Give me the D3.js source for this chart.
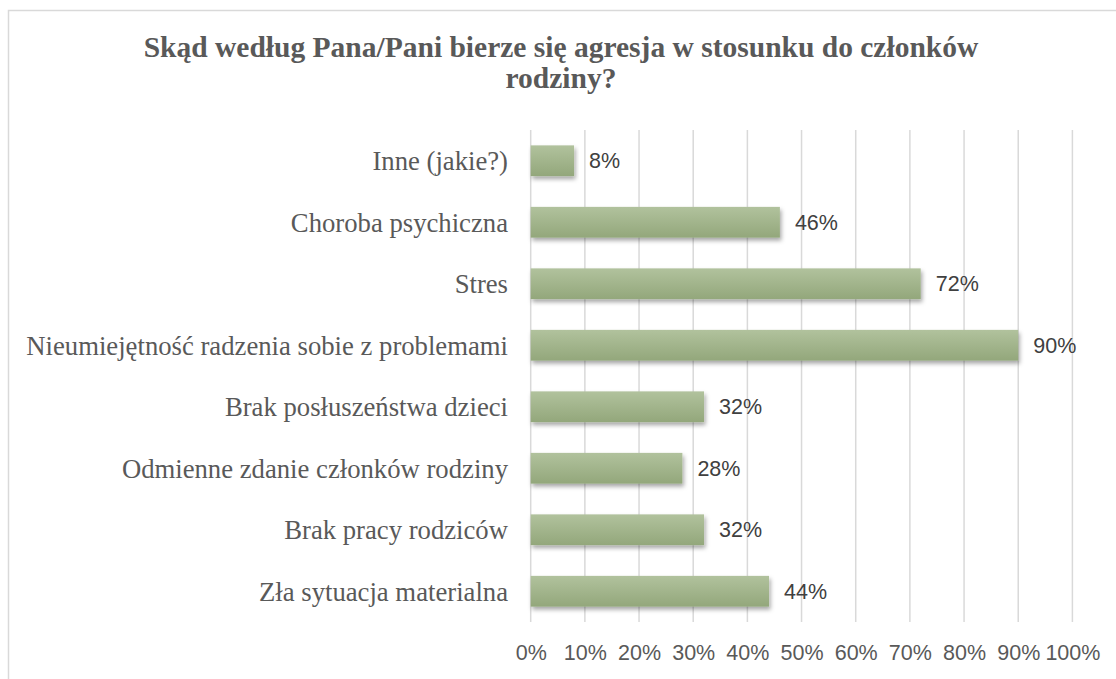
<!DOCTYPE html>
<html><head><meta charset="utf-8">
<script src="https://cdn.jsdelivr.net/npm/d3@7"></script>
<style>html,body{margin:0;padding:0;background:#fff;}</style>
</head><body>
<svg id="c" width="1116" height="679"></svg>
<script>
const titleLines = ["Skąd według Pana/Pani bierze się agresja w stosunku do członków", "rodziny?"];
const categories = ["Inne (jakie?)", "Choroba psychiczna", "Stres", "Nieumiejętność radzenia sobie z problemami", "Brak posłuszeństwa dzieci", "Odmienne zdanie członków rodziny", "Brak pracy rodziców", "Zła sytuacja materialna"];
const values = [0.08, 0.46, 0.72, 0.90, 0.32, 0.28, 0.32, 0.44];
const tickValues = [0, 0.1, 0.2, 0.3, 0.4, 0.5, 0.6, 0.7, 0.8, 0.9, 1.0];

const svg = d3.select("#c");
const defs = svg.append("defs");
const grad = defs.append("linearGradient").attr("id","g").attr("x1",0).attr("y1",0).attr("x2",0).attr("y2",1);
grad.append("stop").attr("offset","0%").attr("stop-color","#b1c29d");
grad.append("stop").attr("offset","100%").attr("stop-color","#93a77b");
const f = defs.append("filter").attr("id","sh").attr("x","-5%").attr("y","-30%").attr("width","115%").attr("height","170%");
f.append("feDropShadow").attr("dx",1.5).attr("dy",3).attr("stdDeviation",2).attr("flood-color","#000").attr("flood-opacity",0.35);

// chart border
svg.append("rect").attr("x",8.5).attr("y",10.5).attr("width",1130).attr("height",700)
  .attr("fill","none").attr("stroke","#d9d9d9").attr("stroke-width",1.5);

const x = d3.scaleLinear().domain([0,1]).range([530.7,1072.4]);
const y = d3.scaleBand().domain(categories).range([130,622]).paddingInner(0.5).paddingOuter(0.25);

// title
const t = svg.append("text").attr("text-anchor","middle")
  .attr("font-family","'Liberation Serif','Times New Roman',serif").attr("font-weight","bold")
  .attr("font-size",29.5).attr("fill","#595959");
titleLines.forEach((l,i)=> t.append("tspan").attr("x",561).attr("y",57+i*31).text(l));

// gridlines
svg.append("g").selectAll("line").data(tickValues).join("line")
  .attr("x1",d=>x(d)).attr("x2",d=>x(d)).attr("y1",130).attr("y2",622)
  .attr("stroke","#d9d9d9").attr("stroke-width",1.5);

// x axis tick labels
const xAxis = d3.axisBottom(x).tickValues(tickValues).tickFormat(d3.format(".0%")).tickSize(0).tickPadding(0);
const gx = svg.append("g").attr("transform","translate(0,645)").call(xAxis);
gx.select(".domain").remove();
gx.selectAll("text").attr("font-family","'Liberation Sans',Arial,sans-serif").attr("font-size",21.5).attr("fill","#595959").attr("dy","0.71em");

// y axis labels
const yAxis = d3.axisLeft(y).tickSize(0).tickPadding(0);
const gy = svg.append("g").attr("transform","translate(508,0)").call(yAxis);
gy.select(".domain").remove();
gy.selectAll("text").attr("font-family","'Liberation Serif','Times New Roman',serif").attr("font-size",26.7).attr("fill","#595959").attr("dy","0.35em");

// bars
svg.append("g").selectAll("rect").data(values).join("rect")
  .attr("x",x(0)).attr("y",(d,i)=>y(categories[i]))
  .attr("width",d=>x(d)-x(0)).attr("height",y.bandwidth())
  .attr("fill","url(#g)").attr("filter","url(#sh)");

// value labels
svg.append("g").selectAll("text").data(values).join("text")
  .attr("x",d=>x(d)+15).attr("y",(d,i)=>y(categories[i])+y.bandwidth()/2)
  .attr("dy","0.35em")
  .attr("font-family","'Liberation Sans',Arial,sans-serif").attr("font-size",21.5).attr("fill","#404040")
  .text(d=>d3.format(".0%")(d));
</script>
</body></html>
